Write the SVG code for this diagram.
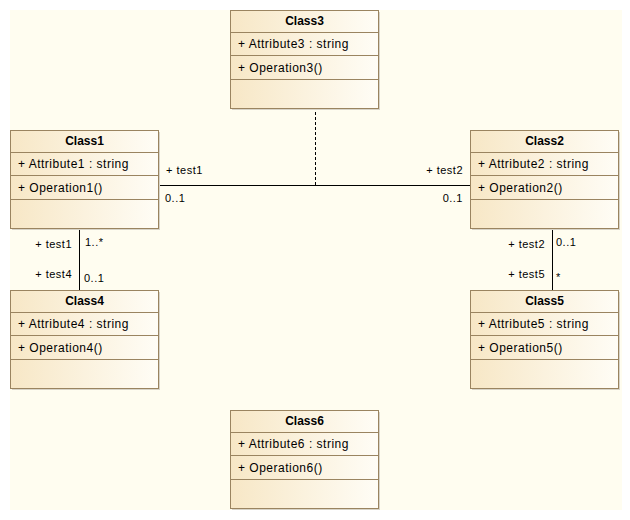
<svg xmlns="http://www.w3.org/2000/svg" width="630" height="520" viewBox="0 0 630 520">
<defs>
<linearGradient id="g" x1="0" y1="0" x2="1" y2="0">
<stop offset="0" stop-color="#F7E7C6"/>
<stop offset="1" stop-color="#FFFDF6"/>
</linearGradient>
<style>
.box{fill:url(#g);stroke:#9A8460;stroke-width:1}
.sh{fill:#D8D4C8}
.sep{stroke:#9A8460;stroke-width:1}
.nm{font-family:"Liberation Sans",Arial,sans-serif;font-size:12px;font-weight:bold;text-anchor:middle;fill:#000}
.tx{font-family:"Liberation Sans",Arial,sans-serif;font-size:12px;letter-spacing:0.5px;fill:#000}
.lb{font-family:"Liberation Sans",Arial,sans-serif;font-size:11px;letter-spacing:0.5px;fill:#000}
.ln{stroke:#000;stroke-width:1;fill:none}
</style>
</defs>
<rect x="0" y="0" width="630" height="520" fill="#FFFFFF"/>
<rect x="10" y="10" width="612" height="500" fill="#FFFDF0"/>

<g id="connectors">
<line class="ln" x1="159" y1="185.5" x2="470" y2="185.5"/>
<line class="ln" x1="315.5" y1="112" x2="315.5" y2="185" stroke-dasharray="3,2"/>
<line class="ln" x1="79.5" y1="229" x2="79.5" y2="290"/>
<line class="ln" x1="552.5" y1="229" x2="552.5" y2="290"/>
<text class="lb" x="166" y="174">+ test1</text>
<text class="lb" x="165" y="202">0..1</text>
<text class="lb" x="463" y="174" text-anchor="end">+ test2</text>
<text class="lb" x="463" y="202" text-anchor="end">0..1</text>
<text class="lb" x="72" y="248" text-anchor="end">+ test1</text>
<text class="lb" x="85" y="246">1..*</text>
<text class="lb" x="72" y="278" text-anchor="end">+ test4</text>
<text class="lb" x="84" y="282">0..1</text>
<text class="lb" x="545" y="248" text-anchor="end">+ test2</text>
<text class="lb" x="556" y="246">0..1</text>
<text class="lb" x="545" y="278" text-anchor="end">+ test5</text>
<text class="lb" x="556" y="281">*</text>
</g>

<g id="Class3">
<rect class="sh" x="232" y="12" width="148" height="98"/>
<rect class="box" x="230.5" y="10.5" width="148" height="98"/>
<line class="sep" x1="230.5" y1="32.5" x2="378.5" y2="32.5"/>
<line class="sep" x1="230.5" y1="55.5" x2="378.5" y2="55.5"/>
<line class="sep" x1="230.5" y1="79.5" x2="378.5" y2="79.5"/>
<text class="nm" x="304.5" y="25">Class3</text>
<text class="tx" x="238" y="48">+ Attribute3 : string</text>
<text class="tx" x="238" y="72">+ Operation3()</text>
</g>

<g id="Class1">
<rect class="sh" x="12" y="132" width="148" height="98"/>
<rect class="box" x="10.5" y="130.5" width="148" height="98"/>
<line class="sep" x1="10.5" y1="152.5" x2="158.5" y2="152.5"/>
<line class="sep" x1="10.5" y1="175.5" x2="158.5" y2="175.5"/>
<line class="sep" x1="10.5" y1="199.5" x2="158.5" y2="199.5"/>
<text class="nm" x="84.5" y="145">Class1</text>
<text class="tx" x="18" y="168">+ Attribute1 : string</text>
<text class="tx" x="18" y="192">+ Operation1()</text>
</g>

<g id="Class2">
<rect class="sh" x="472" y="132" width="148" height="98"/>
<rect class="box" x="470.5" y="130.5" width="148" height="98"/>
<line class="sep" x1="470.5" y1="152.5" x2="618.5" y2="152.5"/>
<line class="sep" x1="470.5" y1="175.5" x2="618.5" y2="175.5"/>
<line class="sep" x1="470.5" y1="199.5" x2="618.5" y2="199.5"/>
<text class="nm" x="544.5" y="145">Class2</text>
<text class="tx" x="478" y="168">+ Attribute2 : string</text>
<text class="tx" x="478" y="192">+ Operation2()</text>
</g>

<g id="Class4">
<rect class="sh" x="12" y="292" width="148" height="98"/>
<rect class="box" x="10.5" y="290.5" width="148" height="98"/>
<line class="sep" x1="10.5" y1="312.5" x2="158.5" y2="312.5"/>
<line class="sep" x1="10.5" y1="335.5" x2="158.5" y2="335.5"/>
<line class="sep" x1="10.5" y1="359.5" x2="158.5" y2="359.5"/>
<text class="nm" x="84.5" y="305">Class4</text>
<text class="tx" x="18" y="328">+ Attribute4 : string</text>
<text class="tx" x="18" y="352">+ Operation4()</text>
</g>

<g id="Class5">
<rect class="sh" x="472" y="292" width="148" height="98"/>
<rect class="box" x="470.5" y="290.5" width="148" height="98"/>
<line class="sep" x1="470.5" y1="312.5" x2="618.5" y2="312.5"/>
<line class="sep" x1="470.5" y1="335.5" x2="618.5" y2="335.5"/>
<line class="sep" x1="470.5" y1="359.5" x2="618.5" y2="359.5"/>
<text class="nm" x="544.5" y="305">Class5</text>
<text class="tx" x="478" y="328">+ Attribute5 : string</text>
<text class="tx" x="478" y="352">+ Operation5()</text>
</g>

<g id="Class6">
<rect class="sh" x="232" y="412" width="148" height="98"/>
<rect class="box" x="230.5" y="410.5" width="148" height="98"/>
<line class="sep" x1="230.5" y1="432.5" x2="378.5" y2="432.5"/>
<line class="sep" x1="230.5" y1="455.5" x2="378.5" y2="455.5"/>
<line class="sep" x1="230.5" y1="479.5" x2="378.5" y2="479.5"/>
<text class="nm" x="304.5" y="425">Class6</text>
<text class="tx" x="238" y="448">+ Attribute6 : string</text>
<text class="tx" x="238" y="472">+ Operation6()</text>
</g>
</svg>
